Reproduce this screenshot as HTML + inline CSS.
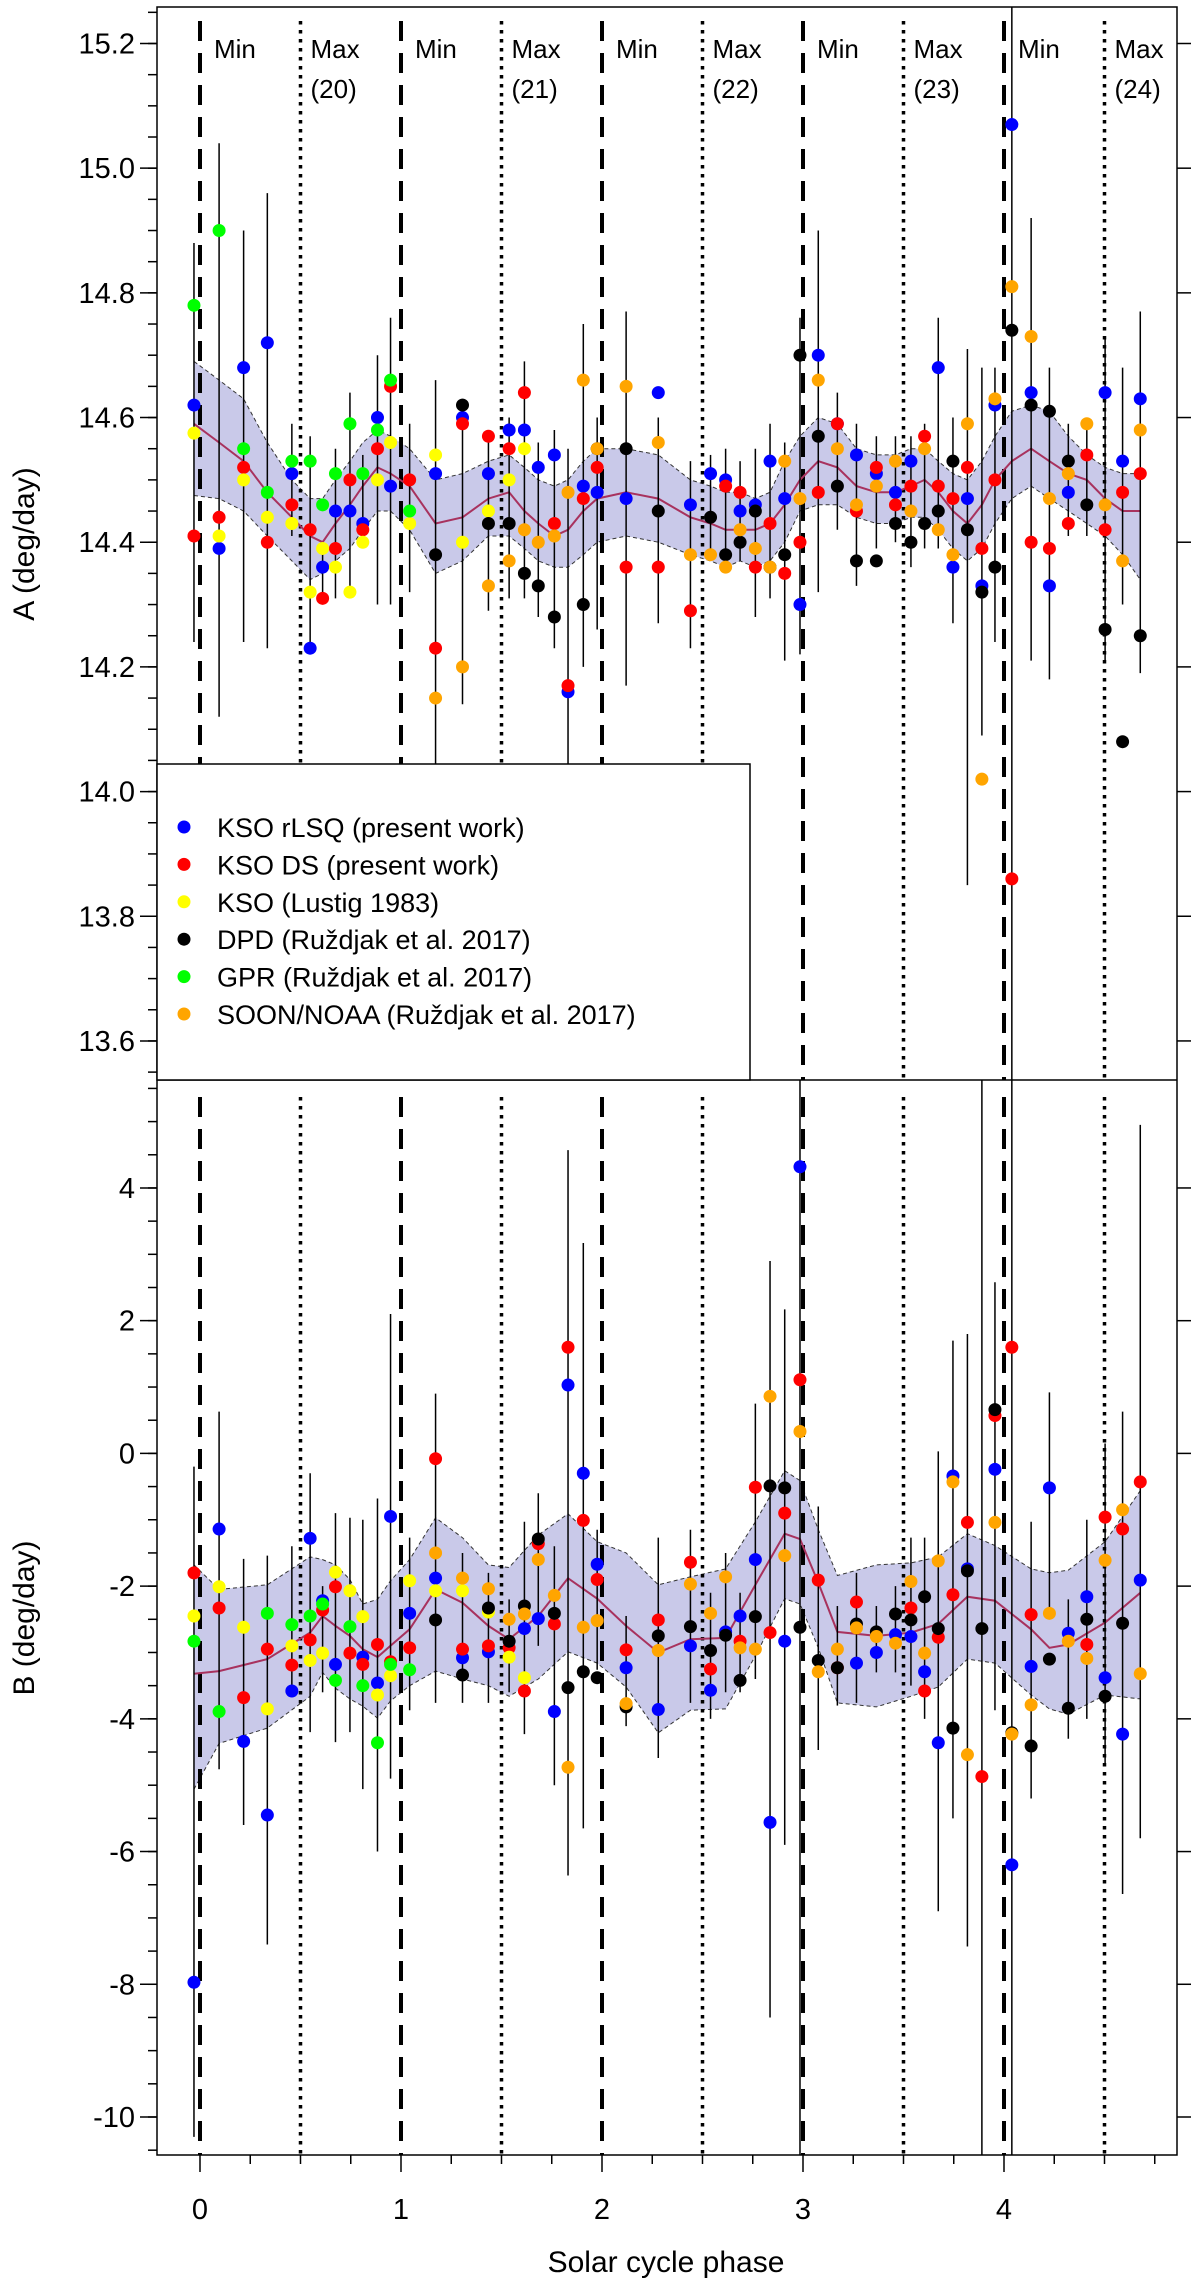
<!DOCTYPE html>
<html><head><meta charset="utf-8"><style>
html,body{margin:0;padding:0;background:#fff;}
svg{display:block;font-family:"Liberation Sans",Arial,sans-serif;}
</style></head><body>
<svg id="chart" width="1200" height="2284" viewBox="0 0 1200 2284" xmlns="http://www.w3.org/2000/svg">
<rect x="0" y="0" width="1200" height="2284" fill="#fff"/>
<g id="layer"></g>
</svg>
<script>
// ---- data ----
const phases=[-0.03,0.095,0.217,0.335,0.457,0.548,0.61,0.674,0.746,0.81,0.883,0.948,1.043,1.172,1.306,1.435,1.538,1.614,1.683,1.763,1.831,1.907,1.976,2.12,2.28,2.44,2.54,2.615,2.687,2.763,2.836,2.909,2.985,3.076,3.171,3.266,3.365,3.46,3.537,3.605,3.673,3.746,3.818,3.89,3.955,4.039,4.135,4.226,4.32,4.412,4.503,4.59,4.678];
const seriesNames=["KSO rLSQ (present work)","KSO DS (present work)","KSO (Lustig 1983)","DPD (Ruždjak et al. 2017)","GPR (Ruždjak et al. 2017)","SOON/NOAA (Ruždjak et al. 2017)"];
const seriesColors=["#0000ff","#ff0000","#ffff00","#000000","#00ff00","#ffa500"];
const N=null;
const aBlue=[14.62,14.39,14.68,14.72,14.51,14.23,14.36,14.45,14.45,14.43,14.60,14.49,N,14.51,14.60,14.51,14.58,14.58,14.52,14.54,14.16,14.49,14.48,14.47,14.64,14.46,14.51,14.50,14.45,14.46,14.53,14.47,14.30,14.70,14.59,14.54,14.51,14.48,14.53,N,14.68,14.36,14.47,14.33,14.62,15.07,14.64,14.33,14.48,N,14.64,14.53,14.63];
const aRed=[14.41,14.44,14.52,14.40,14.46,14.42,14.31,14.39,14.50,14.42,14.55,14.65,14.50,14.23,14.59,14.57,14.55,14.64,N,14.43,14.17,14.47,14.52,14.36,14.36,14.29,N,14.49,14.48,14.36,14.43,14.35,14.40,14.48,14.59,14.45,14.52,14.46,14.49,14.57,14.49,14.47,14.52,14.39,14.50,13.86,14.40,14.39,14.43,14.54,14.42,14.48,14.51];
const aYellow=[14.575,14.41,14.50,14.44,14.43,14.32,14.39,14.36,14.32,14.40,14.50,14.56,14.43,14.54,14.40,14.45,14.50,14.55,N,N,N,N,N,N,N,N,N,N,N,N,N,N,N,N,N,N,N,N,N,N,N,N,N,N,N,N,N,N,N,N,N,N,N];
const aBlack=[N,N,N,N,N,N,N,N,N,N,N,N,N,14.38,14.62,14.43,14.43,14.35,14.33,14.28,N,14.30,14.55,14.55,14.45,N,14.44,14.38,14.40,14.45,14.36,14.38,14.70,14.57,14.49,14.37,14.37,14.43,14.40,14.43,14.45,14.53,14.42,14.32,14.36,14.74,14.62,14.61,14.53,14.46,14.26,14.08,14.25];
const aGreen=[14.78,14.90,14.55,14.48,14.53,14.53,14.46,14.51,14.59,14.51,14.58,14.66,14.45,N,N,N,N,N,N,N,N,N,N,N,N,N,N,N,N,N,N,N,N,N,N,N,N,N,N,N,N,N,N,N,N,N,N,N,N,N,N,N,N];
const aOrange=[N,N,N,N,N,N,N,N,N,N,N,N,N,14.15,14.20,14.33,14.37,14.42,14.40,14.41,14.48,14.66,14.55,14.65,14.56,14.38,14.38,14.36,14.42,14.39,14.36,14.53,14.47,14.66,14.55,14.46,14.49,14.53,14.45,14.55,14.42,14.38,14.59,14.02,14.63,14.81,14.73,14.47,14.51,14.59,14.46,14.37,14.58];
const aErrHi=[14.88,15.04,14.90,14.96,14.59,14.57,14.40,14.55,14.64,14.54,14.70,14.76,14.59,14.66,14.63,14.57,14.60,14.69,14.56,14.58,14.55,14.75,14.60,14.77,14.60,14.53,14.54,14.55,14.53,14.55,14.59,14.56,14.76,14.90,14.64,14.59,14.57,14.57,14.57,14.59,14.76,14.60,14.71,14.68,14.68,15.30,14.92,14.68,14.59,14.59,14.73,14.68,14.77];
const aErrLo=[14.24,14.12,14.24,14.23,14.41,14.22,14.30,14.31,14.31,14.39,14.30,14.30,14.32,14.04,14.14,14.29,14.31,14.31,14.28,14.23,14.04,14.20,14.26,14.17,14.27,14.23,14.37,14.35,14.37,14.28,14.31,14.21,14.22,14.32,14.42,14.33,14.39,14.40,14.36,14.39,14.39,14.27,13.85,14.09,14.24,13.50,14.21,14.18,14.41,14.41,14.21,14.30,14.19];
const aMean=[14.59,14.56,14.53,14.48,14.44,14.41,14.40,14.43,14.46,14.49,14.52,14.51,14.49,14.43,14.44,14.47,14.48,14.45,14.43,14.41,14.42,14.45,14.47,14.48,14.47,14.44,14.43,14.42,14.42,14.42,14.43,14.46,14.50,14.53,14.52,14.49,14.48,14.48,14.49,14.50,14.48,14.45,14.43,14.46,14.50,14.53,14.55,14.53,14.51,14.50,14.47,14.45,14.45];
const aBandHi=[14.69,14.66,14.63,14.56,14.50,14.47,14.47,14.50,14.53,14.56,14.58,14.57,14.55,14.50,14.51,14.53,14.54,14.52,14.50,14.49,14.50,14.53,14.55,14.55,14.54,14.50,14.49,14.48,14.48,14.47,14.48,14.53,14.57,14.60,14.59,14.55,14.54,14.54,14.55,14.55,14.53,14.51,14.50,14.53,14.57,14.61,14.62,14.61,14.57,14.54,14.52,14.51,14.51];
const aBandLo=[14.475,14.47,14.45,14.41,14.37,14.34,14.35,14.37,14.39,14.42,14.45,14.45,14.42,14.35,14.37,14.41,14.41,14.39,14.37,14.36,14.36,14.38,14.40,14.41,14.40,14.38,14.37,14.36,14.37,14.36,14.37,14.40,14.45,14.46,14.46,14.44,14.43,14.43,14.44,14.44,14.42,14.39,14.37,14.39,14.43,14.47,14.49,14.47,14.45,14.43,14.41,14.38,14.34];

const bBlue=[-7.97,-1.14,-4.34,-5.45,-3.58,-1.28,-2.22,-3.18,N,-3.07,-3.46,-0.95,-2.41,-1.88,-3.08,-2.99,N,-2.64,-2.49,-3.89,1.03,-0.30,-1.67,-3.23,-3.86,-2.90,-3.57,-2.69,-2.45,-1.60,-5.56,-2.83,4.32,N,N,-3.16,-3.00,-2.73,-2.76,-3.29,-4.36,-0.34,-1.74,N,-0.24,-6.20,-3.21,-0.52,-2.71,-2.16,-3.38,-4.23,-1.91];
const bRed=[-1.80,-2.33,-3.68,-2.95,-3.19,-2.81,-2.36,-2.01,-3.01,-3.18,-2.88,-3.14,-2.93,-0.08,-2.95,-2.90,-2.93,-3.58,-1.36,-2.57,1.60,-1.01,-1.90,-2.96,-2.51,-1.64,-3.25,N,-2.83,-0.51,-2.70,-0.90,1.11,-1.91,-3.23,-2.24,N,N,-2.33,-3.58,-2.77,-2.13,-1.04,-4.87,0.57,1.60,-2.43,N,N,-2.88,-0.96,-1.14,-0.43];
const bYellow=[-2.45,-2.01,-2.62,-3.85,-2.90,-3.12,-3.01,-1.79,-2.07,-2.46,-3.64,-3.35,-1.92,-2.07,-2.07,-2.39,-3.07,-3.38,N,N,N,N,N,N,N,N,N,N,N,N,N,N,N,N,N,N,N,N,N,N,N,N,N,N,N,N,N,N,N,N,N,N,N];
const bBlack=[N,N,N,N,N,N,N,N,N,N,N,N,N,-2.51,-3.34,-2.33,-2.83,-2.30,-1.29,-2.41,-3.53,-3.29,-3.38,-3.82,-2.75,-2.61,-2.97,-2.74,-3.42,-2.46,-0.49,-0.52,-2.62,-3.12,-3.23,-2.57,-2.69,-2.42,-2.51,-2.16,-2.64,-4.14,-1.77,-2.64,0.66,-4.21,-4.41,-3.10,-3.84,-2.50,-3.66,-2.56,N];
const bGreen=[-2.83,-3.89,N,-2.41,-2.58,-2.45,-2.27,-3.42,-2.61,-3.50,-4.36,-3.18,-3.26,N,N,N,N,N,N,N,N,N,N,N,N,N,N,N,N,N,N,N,N,N,N,N,N,N,N,N,N,N,N,N,N,N,N,N,N,N,N,N,N];
const bOrange=[N,N,N,N,N,N,N,N,N,N,N,N,N,-1.50,-1.88,-2.04,-2.50,-2.42,-1.60,-2.14,-4.73,-2.62,-2.52,-3.77,-2.97,-1.97,-2.41,-1.86,-2.93,-2.95,0.86,-1.54,0.33,-3.29,-2.95,-2.63,-2.76,-2.86,-1.93,-3.01,-1.62,-0.43,-4.54,N,-1.04,-4.23,-3.79,-2.41,-2.83,-3.09,-1.61,-0.85,-3.32];
const bErrHi=[-0.2,0.63,-1.59,-1.54,-1.4,-0.3,-2.0,-0.9,-0.97,-1.0,-0.68,2.1,-1.27,0.9,-1.5,-1.8,-2.2,-1.03,-0.6,-1.4,4.57,3.17,-1.15,-2.45,-1.27,-1.15,-2.1,-1.5,-2.1,0.75,2.9,2.17,6,-0.8,-2.3,-1.8,-2.3,-2.0,-1.27,-1.27,0.03,1.7,1.8,6,2.58,6,-1.03,0.92,-2.2,-1.0,0.15,0.63,4.95];
const bErrLo=[-10.3,-4.76,-5.6,-7.4,-3.6,-4.2,-3.6,-4.35,-4.2,-5.06,-6.0,-4.9,-3.87,-3.76,-3.76,-3.76,-3.6,-4.23,-2.9,-5.0,-6.36,-5.65,-3.26,-4.11,-4.59,-3.76,-4.0,-3.6,-3.6,-3.4,-8.5,-5.9,-11,-4.47,-3.8,-3.76,-3.3,-3.3,-3.5,-4.0,-6.9,-5.5,-7.43,-11,-3.87,-11,-5.2,-2.45,-4.3,-4.0,-4.7,-6.64,-5.8];
const bBandPhase=[-0.03,0.095,0.335,0.548,0.61,0.674,0.746,0.81,0.883,0.948,1.043,1.172,1.306,1.435,1.538,1.683,1.831,1.976,2.12,2.28,2.44,2.615,2.763,2.909,2.985,3.076,3.171,3.365,3.537,3.673,3.818,3.955,4.135,4.226,4.32,4.503,4.678];
const bMean=[-3.32,-3.28,-3.1,-2.7,-2.45,-2.6,-2.75,-2.95,-3.07,-2.9,-2.65,-2.05,-2.25,-2.6,-2.8,-2.45,-1.88,-2.19,-2.6,-3.0,-2.8,-2.78,-1.98,-1.21,-1.29,-1.95,-2.69,-2.75,-2.7,-2.57,-2.16,-2.22,-2.65,-2.93,-2.88,-2.55,-2.1];
const bBandHi=[-1.68,-2.05,-1.98,-1.56,-1.6,-1.68,-1.9,-2.27,-2.2,-1.92,-1.6,-0.97,-1.27,-1.68,-1.72,-1.23,-0.91,-1.33,-1.5,-1.98,-1.86,-1.74,-1.03,-0.26,-0.41,-1.15,-1.84,-1.68,-1.65,-1.56,-1.21,-1.39,-1.74,-1.8,-1.76,-1.33,-0.56];
const bBandLo=[-5.06,-4.37,-4.14,-3.66,-3.3,-3.54,-3.7,-3.81,-3.99,-3.73,-3.5,-3.28,-3.4,-3.5,-3.66,-3.4,-2.99,-3.16,-3.52,-4.21,-3.87,-3.85,-3.05,-2.19,-2.27,-2.93,-3.76,-3.82,-3.66,-3.52,-3.1,-3.16,-3.64,-3.85,-3.93,-3.64,-3.7];
const aTicks=["13.6","13.8","14.0","14.2","14.4","14.6","14.8","15.0","15.2"];
const bTicks=["-10","-8","-6","-4","-2","0","2","4"];
const xTicks=["0","1","2","3","4"];
const cycleLabels=["(20)","(21)","(22)","(23)","(24)"];

// ---- axes ----
const L=157,R=1177,TOPA=7,DIV=1080,BOT=2155;
const px=p=>200+p*201;
const pyA=a=>43.5+(15.2-a)*623.4;
const pyB=b=>1453.4-b*66.36;
const NS="http://www.w3.org/2000/svg";
const layer=document.getElementById('layer');
function mk(tag,attrs,parent){const e=document.createElementNS(NS,tag);for(const k in attrs)e.setAttribute(k,attrs[k]);(parent||layer).appendChild(e);return e;}

// clip paths
const defs=mk('defs',{});
const cA=mk('clipPath',{id:'clipA'},defs);mk('rect',{x:L,y:TOPA,width:R-L,height:DIV-TOPA},cA);
const cB=mk('clipPath',{id:'clipB'},defs);mk('rect',{x:L,y:DIV,width:R-L,height:BOT-DIV},cB);

function panel(cfg){
  const g=mk('g',{'clip-path':'url(#'+cfg.clip+')'});
  
  
  // band
  let d='';
  cfg.bandPhase.forEach((p,i)=>{d+=(i?'L':'M')+px(p).toFixed(1)+' '+cfg.py(cfg.hi[i]).toFixed(1);});
  for(let i=cfg.bandPhase.length-1;i>=0;i--)d+='L'+px(cfg.bandPhase[i]).toFixed(1)+' '+cfg.py(cfg.lo[i]).toFixed(1);
  const band=mk('path',{d:d+'Z',fill:'#c9c9e9',stroke:'none'},g);
  
  
  const mkEdge=(arr,nm)=>{let dd='';cfg.bandPhase.forEach((p,i)=>{dd+=(i?'L':'M')+px(p).toFixed(1)+' '+cfg.py(arr[i]).toFixed(1);});
    const e=mk('path',{d:dd,fill:'none',stroke:'#333','stroke-width':1,'stroke-dasharray':'4,3'},g);
    
    };
  mkEdge(cfg.hi,cfg.name+'-band-upper');mkEdge(cfg.lo,cfg.name+'-band-lower');
  // vertical cycle lines
  for(let k=0;k<=4;k++){
    const mn=mk('line',{x1:px(k),x2:px(k),y1:cfg.lineTop,y2:cfg.lineBot,stroke:'#000','stroke-width':4,'stroke-dasharray':'20,12'},g);
    
    
    const mx=mk('line',{x1:px(k+0.5),x2:px(k+0.5),y1:cfg.lineTop,y2:cfg.lineBot,stroke:'#000','stroke-width':3.5,'stroke-dasharray':'3.5,5.5'},g);
    
    
  }
  // mean line
  let md='';cfg.bandPhase.forEach((p,i)=>{md+=(i?'L':'M')+px(p).toFixed(1)+' '+cfg.py(cfg.mean[i]).toFixed(1);});
  const ml=mk('path',{d:md,fill:'none',stroke:'#a8325e','stroke-width':2},g);
  
  
  // error bars
  phases.forEach((p,i)=>{
    const eb=mk('line',{x1:px(p),x2:px(p),y1:cfg.py(cfg.errHi[i]),y2:cfg.py(cfg.errLo[i]),stroke:'#000','stroke-width':1.5},g);
    
    
  });
  // points
  cfg.series.forEach((vals,si)=>{
    vals.forEach((v,i)=>{
      if(v===null)return;
      const c=mk('circle',{cx:px(phases[i]),cy:cfg.py(v),r:6.5,fill:seriesColors[si]},g);
      
      
    });
  });
}
panel({name:'a-panel',clip:'clipA',py:pyA,bandPhase:phases,mean:aMean,hi:aBandHi,lo:aBandLo,errHi:aErrHi,errLo:aErrLo,series:[aBlue,aRed,aYellow,aBlack,aGreen,aOrange],lineTop:21,lineBot:1080});
panel({name:'b-panel',clip:'clipB',py:pyB,bandPhase:bBandPhase,mean:bMean,hi:bBandHi,lo:bBandLo,errHi:bErrHi,errLo:bErrLo,series:[bBlue,bRed,bYellow,bBlack,bGreen,bOrange],lineTop:1097,lineBot:2155});

// min/max labels
for(let k=0;k<5;k++){
  const t1=mk('text',{x:px(k)+14,y:58,'font-size':26,fill:'#000'});t1.textContent='Min';
  
  
  const t2=mk('text',{x:px(k+0.5)+10,y:58,'font-size':26,fill:'#000'});t2.textContent='Max';
  
  
  const t3=mk('text',{x:px(k+0.5)+10,y:98,'font-size':26,fill:'#000'});t3.textContent=cycleLabels[k];
  
  
}

// frames
const fr=mk('rect',{x:L,y:TOPA,width:R-L,height:BOT-TOPA,fill:'none',stroke:'#000','stroke-width':1.5});


const dv=mk('line',{x1:L,x2:R,y1:DIV,y2:DIV,stroke:'#000','stroke-width':1.5});



// y ticks A
for(let v=13.55;v<=15.26;v+=0.05){const y=pyA(v);if(y<TOPA||y>DIV)continue;
  const t=mk('line',{x1:L-9,x2:L,y1:y,y2:y,stroke:'#000','stroke-width':1.5});
  
  }
aTicks.forEach(s=>{const y=pyA(parseFloat(s));
  const t=mk('line',{x1:L-17,x2:L,y1:y,y2:y,stroke:'#000','stroke-width':1.5});
  
  
  const t2=mk('line',{x1:R,x2:R+14,y1:y,y2:y,stroke:'#000','stroke-width':1.5});
  
  
  const l=mk('text',{x:L-22,y:y+10,'font-size':29,'text-anchor':'end',fill:'#000'});l.textContent=s;
  
  });
// y ticks B
for(let v=-10.5;v<=5.6;v+=0.5){const y=pyB(v);if(y<DIV||y>BOT)continue;
  const t=mk('line',{x1:L-9,x2:L,y1:y,y2:y,stroke:'#000','stroke-width':1.5});
  
  }
bTicks.forEach(s=>{const y=pyB(parseFloat(s));
  const t=mk('line',{x1:L-17,x2:L,y1:y,y2:y,stroke:'#000','stroke-width':1.5});
  
  
  const t2=mk('line',{x1:R,x2:R+14,y1:y,y2:y,stroke:'#000','stroke-width':1.5});
  
  
  const l=mk('text',{x:L-22,y:y+10,'font-size':29,'text-anchor':'end',fill:'#000'});l.textContent=s;
  
  });
// x ticks
for(let p=0.25;p<4.8;p+=0.25){if(Math.abs(p-Math.round(p))<0.01)continue;
  const t=mk('line',{x1:px(p),x2:px(p),y1:BOT,y2:BOT+9,stroke:'#000','stroke-width':1.5});
  
  }
xTicks.forEach(s=>{const x=px(parseFloat(s));
  const t=mk('line',{x1:x,x2:x,y1:BOT,y2:BOT+17,stroke:'#000','stroke-width':1.5});
  
  
  const l=mk('text',{x:x,y:2219,'font-size':29,'text-anchor':'middle',fill:'#000'});l.textContent=s;
  
  });

// axis titles
const ta=mk('text',{x:0,y:0,'font-size':30,'text-anchor':'middle',transform:'translate(34,544) rotate(-90)',fill:'#000'});ta.textContent='A (deg/day)';


const tb=mk('text',{x:0,y:0,'font-size':30,'text-anchor':'middle',transform:'translate(34,1618) rotate(-90)',fill:'#000'});tb.textContent='B (deg/day)';


const tx=mk('text',{x:666,y:2272,'font-size':30,'text-anchor':'middle',fill:'#000'});tx.textContent='Solar cycle phase';



// legend
const lg=mk('g',{});


mk('rect',{x:L,y:764,width:593,height:DIV-764,fill:'#fff',stroke:'#000','stroke-width':1.5},lg);
seriesNames.forEach((n,i)=>{
  const y=831+i*37.4;
  const e=mk('g',{},lg);
  
  
  mk('circle',{cx:184,cy:y-4,r:6.5,fill:seriesColors[i]},e);
  const t=mk('text',{x:217,y:y+6,'font-size':27,fill:'#000'},e);t.textContent=n;
});
</script>
</body></html>
